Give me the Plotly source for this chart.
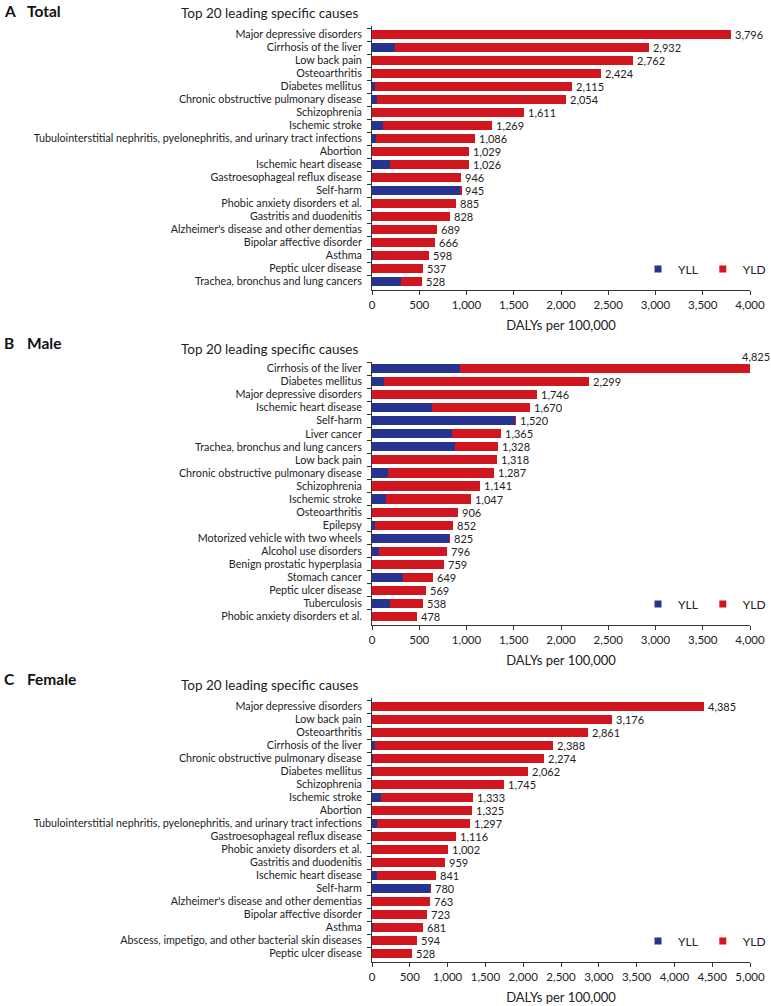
import plotly.graph_objects as go

W, H = 771, 1006

# ---------------- data ----------------
total_causes = ["Major depressive disorders", "Cirrhosis of the liver", "Low back pain", "Osteoarthritis",
                "Diabetes mellitus", "Chronic obstructive pulmonary disease", "Schizophrenia", "Ischemic stroke",
                "Tubulointerstitial nephritis, pyelonephritis, and urinary tract infections", "Abortion",
                "Ischemic heart disease", "Gastroesophageal reflux disease", "Self-harm",
                "Phobic anxiety disorders et al.", "Gastritis and duodenitis",
                "Alzheimer's disease and other dementias", "Bipolar affective disorder", "Asthma",
                "Peptic ulcer disease", "Trachea, bronchus and lung cancers"]
total_dalys = [3796, 2932, 2762, 2424, 2115, 2054, 1611, 1269, 1086, 1029, 1026, 946, 945, 885, 828, 689, 666, 598, 537, 528]
total_yll = [0, 247, 0, 0, 35, 50, 0, 120, 42, 0, 190, 0, 940, 0, 2, 2, 0, 10, 2, 303]

male_causes = ["Cirrhosis of the liver", "Diabetes mellitus", "Major depressive disorders", "Ischemic heart disease",
               "Self-harm", "Liver cancer", "Trachea, bronchus and lung cancers", "Low back pain",
               "Chronic obstructive pulmonary disease", "Schizophrenia", "Ischemic stroke", "Osteoarthritis",
               "Epilepsy", "Motorized vehicle with two wheels", "Alcohol use disorders",
               "Benign prostatic hyperplasia", "Stomach cancer", "Peptic ulcer disease", "Tuberculosis",
               "Phobic anxiety disorders et al."]
male_dalys = [4825, 2299, 1746, 1670, 1520, 1365, 1328, 1318, 1287, 1141, 1047, 906, 852, 825, 796, 759, 649, 569, 538, 478]
male_yll = [928, 127, 0, 635, 1516, 847, 882, 0, 169, 0, 145, 0, 28, 823, 78, 0, 325, 2, 190, 0]

female_causes = ["Major depressive disorders", "Low back pain", "Osteoarthritis", "Cirrhosis of the liver",
                 "Chronic obstructive pulmonary disease", "Diabetes mellitus", "Schizophrenia", "Ischemic stroke",
                 "Abortion", "Tubulointerstitial nephritis, pyelonephritis, and urinary tract infections",
                 "Gastroesophageal reflux disease", "Phobic anxiety disorders et al.", "Gastritis and duodenitis",
                 "Ischemic heart disease", "Self-harm", "Alzheimer's disease and other dementias",
                 "Bipolar affective disorder", "Asthma", "Abscess, impetigo, and other bacterial skin diseases",
                 "Peptic ulcer disease"]
female_dalys = [4385, 3176, 2861, 2388, 2274, 2062, 1745, 1333, 1325, 1297, 1116, 1002, 959, 841, 780, 763, 723, 681, 594, 528]
female_yll = [0, 0, 0, 44, 13, 9, 0, 115, 0, 62, 0, 0, 2, 62, 775, 2, 0, 9, 0, 2]

panel_letters = ["A", "B", "C"]
panel_names = ["Total", "Male", "Female"]
x_max = [4000, 4000, 5000]
header_text = "Top 20 leading specific causes"
axis_title = "DALYs per 100,000"
series_names = ["YLL", "YLD"]

# ---------------- style ----------------
FONT = "Lato"
BLUE = "#26348f"
RED = "#d0171f"
TXT = "#222222"

# plot area pixel geometry (top, bottom) per panel
x_left, x_right = 372, 750
panels_px = [(26, 290), (362, 625), (698, 962)]

def py(px):
    return 1 - px / H

fig = go.Figure()
datasets = [(total_causes, total_dalys, total_yll),
            (male_causes, male_dalys, male_yll),
            (female_causes, female_dalys, female_yll)]

annotations = []
layout_axes = {}
for i, (causes, dalys, yll) in enumerate(datasets):
    sfx = "" if i == 0 else str(i + 1)
    xa, ya = "x" + sfx, "y" + sfx
    lg = "legend" + sfx
    yld = [d - l for d, l in zip(dalys, yll)]
    fig.add_trace(go.Bar(y=causes, x=yll, orientation="h", marker=dict(color=BLUE, line=dict(width=0)),
                         name="YLL", xaxis=xa, yaxis=ya, showlegend=False, hoverinfo="x+y+name"))
    fig.add_trace(go.Bar(y=causes, x=yld, orientation="h", marker=dict(color=RED, line=dict(width=0)),
                         name="YLD", xaxis=xa, yaxis=ya, showlegend=False, hoverinfo="x+y+name"))
    # legend proxies (small squares)
    for nm, col in zip(series_names, [BLUE, RED]):
        fig.add_trace(go.Scatter(x=[None], y=[None], mode="markers", name=nm,
                                 marker=dict(symbol="square", size=7, color=col),
                                 xaxis=xa, yaxis=ya, legend=lg, showlegend=True))
    top, bot = panels_px[i]
    layout_axes["xaxis" + sfx] = dict(
        domain=[x_left / W, x_right / W], anchor=ya, range=[0, x_max[i]], dtick=500, tickformat=",",
        showline=True, linecolor="#333", linewidth=1, ticks="outside", ticklen=4, tickcolor="#333",
        showgrid=False, zeroline=False, automargin=False,
        tickfont=dict(family=FONT, size=11.5, color=TXT),
        title=dict(text=axis_title, font=dict(family=FONT, size=13, color=TXT), standoff=11),
        fixedrange=True)
    layout_axes["yaxis" + sfx] = dict(
        domain=[py(bot), py(top)], anchor=xa, autorange="reversed", type="category", dtick=1,
        showline=True, linecolor="#333", linewidth=1, ticks="outside", ticklen=4, tickcolor="#333",
        tickson="boundaries", showgrid=False, zeroline=False, automargin=False,
        tickfont=dict(family=FONT, size=10.75, color=TXT), ticklabelstandoff=7, fixedrange=True)
    layout_axes[lg] = dict(orientation="h", x=1.0, xanchor="right", y=py(bot - 21),
                           yanchor="middle", traceorder="normal",
                           bgcolor="rgba(0,0,0,0)", font=dict(family=FONT, size=12, color=TXT),
                           itemwidth=30, tracegroupgap=0)
    # value labels
    for c, d in zip(causes, dalys):
        if d <= x_max[i]:
            annotations.append(dict(x=d, y=c, xref=xa, yref=ya, text=f"{d:,}", showarrow=False,
                                    xanchor="left", xshift=2, font=dict(family=FONT, size=11, color=TXT)))
        else:
            annotations.append(dict(x=x_max[i], y=c, xref=xa, yref=ya, text=f"{d:,}", showarrow=False,
                                    xanchor="center", xshift=6, yshift=12,
                                    font=dict(family=FONT, size=11, color=TXT)))
    # header and panel label
    annotations.append(dict(x=360 / W, y=py(top - 13), xref="paper", yref="paper", text=header_text,
                            showarrow=False, xanchor="right", yanchor="middle",
                            font=dict(family=FONT, size=13.5, color=TXT)))
    if i == 0:
        lab_y, lab_anchor = 1.0, "top"
    else:
        lab_y, lab_anchor = py(top - 19), "middle"
    annotations.append(dict(x=2 / W, y=lab_y, xref="paper", yref="paper",
                            text=f"<b>{panel_letters[i]}</b>", showarrow=False, xanchor="left",
                            yanchor=lab_anchor, font=dict(family=FONT, size=15.5, color="#111")))
    annotations.append(dict(x=25 / W, y=lab_y, xref="paper", yref="paper",
                            text=f"<b>{panel_names[i]}</b>", showarrow=False, xanchor="left",
                            yanchor=lab_anchor, font=dict(family=FONT, size=15.5, color="#111")))

fig.update_layout(
    width=W, height=H, margin=dict(l=0, r=0, t=0, b=0, autoexpand=False),
    paper_bgcolor="white", plot_bgcolor="white",
    barmode="stack", bargap=0.3,
    font=dict(family=FONT, color=TXT),
    annotations=annotations,
    **layout_axes,
)

fig.write_html(
    "out.html",
    config={"displayModeBar": False},
    post_script=("document.documentElement.style.margin='0px';document.body.style.margin='0px';"
                 "document.documentElement.style.overflow='hidden';document.body.style.overflow='hidden';"),
)
